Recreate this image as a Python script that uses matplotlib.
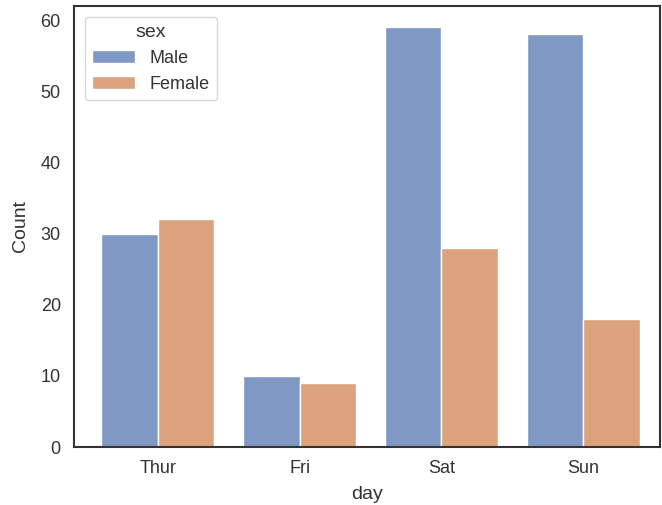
import numpy as np
import matplotlib
matplotlib.use("Agg")
import matplotlib.pyplot as plt
import seaborn as sns

# counts of tips per day, split by sex
days = ["Thur", "Fri", "Sat", "Sun"]
male_counts = [30, 10, 59, 58]
female_counts = [32, 9, 28, 18]
hue_labels = ["Male", "Female"]

sns.set_style("white")
plt.rcParams['font.family'] = ['Liberation Sans', 'DejaVu Sans']

male_color = "#8098c4"
female_color = "#dca27d"
fig = plt.figure(figsize=(6.62, 5.05), dpi=100)
ax = fig.add_axes([74 / 662, 58 / 505, 586 / 662, 441 / 505])

x = np.arange(len(days))
w = 0.4
ax.bar(x - w / 2, male_counts, width=w, color=male_color,
       edgecolor="white", linewidth=1, label=hue_labels[0])
ax.bar(x + w / 2, female_counts, width=w, color=female_color,
       edgecolor="white", linewidth=1, label=hue_labels[1])

ax.set_xticks(x)
ax.set_xticklabels(days)
ax.set_xlim(-0.59, 3.54)
ax.set_ylim(0, 62)
ax.set_xlabel("day", fontsize=14, color="#333333", labelpad=6)
ax.set_ylabel("Count", fontsize=14, color="#333333", labelpad=8)
ax.tick_params(labelsize=13, labelcolor="#333333", pad=6)
for s in ax.spines.values():
    s.set_linewidth(1.5)
    s.set_color("#333333")

leg = ax.legend(title="sex", loc="upper left", fontsize=13, title_fontsize=14,
                borderaxespad=0.6, handlelength=2.4, labelspacing=0.5)
for t in leg.get_texts():
    t.set_color("#333333")
leg.get_title().set_color("#333333")

fig.savefig("out.png", dpi=100)
